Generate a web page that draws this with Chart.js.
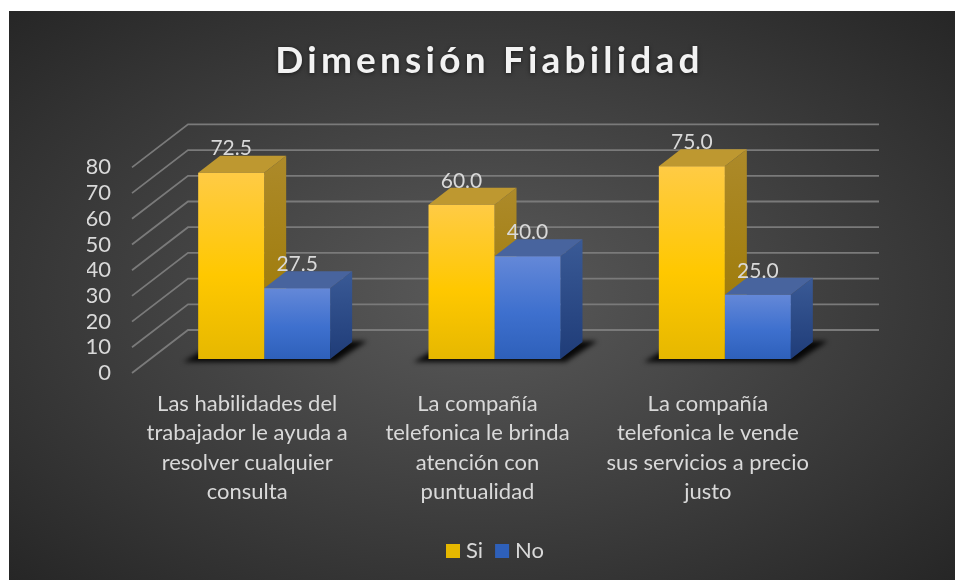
<!DOCTYPE html>
<html><head><meta charset="utf-8">
<style>html,body{margin:0;padding:0;background:#fff}canvas{display:block}</style>
<script src="https://cdn.jsdelivr.net/npm/chart.js@4"></script>
</head><body><canvas id="c" width="955" height="580"></canvas>
<script>
const categories = [
  ["Las habilidades del","trabajador le ayuda a","resolver cualquier","consulta"],
  ["La compañía","telefonica le brinda","atención con","puntualidad"],
  ["La compañía","telefonica le vende","sus servicios a precio","justo"]
];
const siValues = [72.5, 60.0, 75.0];
const noValues = [27.5, 40.0, 25.0];
const seriesNames = ["Si", "No"];
const chartTitle = "Dimensión Fiabilidad";

const FONT = "Lato, Carlito, sans-serif";
const TEXT = "#D9D9D9";
const DEPTH = {dx: 22, dy: 17};
const PAL = [
  {front:["#FFCB45","#FFC800","#E6B800"], side:["#AD8A2A","#9A7700"], top:"#BE9830"},
  {front:["#6488D8","#3E70CE","#2E60BA"], side:["#3A5A96","#1F3C78"], top:"#48649E"}
];

function frontFill(i){
  return function(ctx){
    const c = ctx.chart, pal = PAL[i].front, y = c.scales.y;
    let t = NaN, b = NaN;
    if (ctx.parsed && y) { t = y.getPixelForValue(ctx.parsed.y); b = y.getPixelForValue(0); }
    if (!Number.isFinite(t) || !Number.isFinite(b)) { t = c.height - 37; b = c.height - 23; }
    const g = c.ctx.createLinearGradient(0,t,0,b);
    g.addColorStop(0,pal[0]); g.addColorStop(.55,pal[1]); g.addColorStop(1,pal[2]);
    return g;
  };
}

const scene = {
  id:"scene",
  afterLayout(chart){
    const t = chart.titleBlock;
    if (t && !t._wrapped){
      const d = t.draw.bind(t);
      t.draw = function(){
        const x = chart.ctx; x.save();
        x.letterSpacing = "4.2px"; x.translate(26,-1);
        x.shadowColor = "rgba(0,0,0,.55)"; x.shadowBlur = 4; x.shadowOffsetY = 1;
        d(); x.restore();
      };
      t._wrapped = true;
    }
    const l = chart.legend;
    if (l && !l._wrapped){
      const d = l.draw.bind(l);
      l.draw = function(){
        const x = chart.ctx; x.save();
        x.translate(34,0);
        const ft = x.fillText;
        x.fillText = function(s,a,b,m){ return m===undefined ? ft.call(x,s,a-5,b) : ft.call(x,s,a-5,b,m); };
        d();
        delete x.fillText;
        x.restore();
      };
      l._wrapped = true;
    }
  },
  beforeDraw(chart){
    const x = chart.ctx, L=9, T=11, R=chart.width, B=chart.height;
    const cx=(L+R)/2, cy=(T+B)/2;
    x.save();
    x.fillStyle="#fff"; x.fillRect(0,0,chart.width,chart.height);
    x.beginPath(); x.rect(L,T,R-L,B-T); x.clip();
    x.translate(cx,cy); x.scale((R-L)/(B-T),1);
    const r=Math.hypot((B-T)/2,(B-T)/2)*1.0;
    const g=x.createRadialGradient(0,0,0,0,0,r);
    g.addColorStop(0,"#5A5A5A"); g.addColorStop(1,"#262626");
    x.fillStyle=g; x.fillRect(-2000,-2000,4000,4000);
    x.restore();
  },
  beforeDatasetsDraw(chart){
    const x = chart.ctx, ys = chart.scales.y, area = chart.chartArea;
    x.save();
    x.strokeStyle="#7A7A7A"; x.lineWidth=1.8;
    ys.ticks.forEach(tk=>{
      const p = ys.getPixelForValue(tk.value);
      x.beginPath();
      x.moveTo(area.left-17, p+14);
      x.lineTo(area.left+39, p-29);
      x.lineTo(area.right+39, p-29);
      x.stroke();
    });
    x.restore();
    const metas = [chart.getDatasetMeta(0), chart.getDatasetMeta(1)];
    metas[0].data.forEach((bar,i)=>{
      const b2 = metas[1].data[i];
      const l = bar.x-bar.width/2, r = b2.x+b2.width/2, b = bar.base;
      x.save();
      x.filter="blur(2.5px)"; x.fillStyle="rgba(0,0,0,.9)";
      x.beginPath();
      x.moveTo(l-15,b+3); x.lineTo(r+5,b+3); x.lineTo(r+37,b-18); x.lineTo(r+10,b-18); x.lineTo(l+10,b-12);
      x.closePath(); x.fill(); x.restore();
    });
    metas.forEach((m,k)=>{
      const pal = PAL[k];
      m.data.forEach(bar=>{
        const l=bar.x-bar.width/2, r=bar.x+bar.width/2, t=bar.y, b=bar.base;
        const g=x.createLinearGradient(0,t-DEPTH.dy,0,b);
        g.addColorStop(0,pal.side[0]); g.addColorStop(1,pal.side[1]);
        x.fillStyle=g;
        x.beginPath(); x.moveTo(r,t); x.lineTo(r+DEPTH.dx,t-DEPTH.dy); x.lineTo(r+DEPTH.dx,b-DEPTH.dy); x.lineTo(r,b); x.closePath(); x.fill();
        x.fillStyle=pal.top;
        x.beginPath(); x.moveTo(l,t); x.lineTo(l+DEPTH.dx,t-DEPTH.dy); x.lineTo(r+DEPTH.dx,t-DEPTH.dy); x.lineTo(r,t); x.closePath(); x.fill();
      });
    });
  },
  afterDatasetsDraw(chart){
    const x = chart.ctx;
    x.save();
    x.font = "21px "+FONT; x.fillStyle=TEXT; x.textAlign="center"; x.textBaseline="middle";
    chart.data.datasets.forEach((ds,k)=>{
      chart.getDatasetMeta(k).data.forEach((bar,i)=>{
        x.fillText(ds.data[i].toFixed(1), bar.x, bar.y-DEPTH.dy-7);
      });
    });
    x.restore();
  }
};

new Chart(document.getElementById("c"),{
  type:"bar",
  plugins:[scene],
  data:{labels:categories,datasets:[
    {label:seriesNames[0],data:siValues,backgroundColor:frontFill(0),categoryPercentage:.573,barPercentage:1},
    {label:seriesNames[1],data:noValues,backgroundColor:frontFill(1),categoryPercentage:.573,barPercentage:1}
  ]},
  options:{
    responsive:false,animation:false,
    layout:{padding:{left:87,right:115,top:0,bottom:8}},
    scales:{
      y:{min:0,max:80,ticks:{stepSize:10,autoSkip:false,color:TEXT,font:{family:FONT,size:22},padding:38,labelOffset:14},
         grid:{display:false,drawTicks:false},border:{display:false},
         afterFit(s){s.width=62;}},
      x:{ticks:{color:TEXT,font:{family:FONT,size:22,lineHeight:1.34},maxRotation:0,minRotation:0,autoSkip:false,padding:30,labelOffset:-17},
         grid:{display:false,drawTicks:false},border:{display:false},
         afterFit(s){s.height=174;}}
    },
    plugins:{
      title:{display:true,text:chartTitle,color:"#F2F2F2",font:{family:FONT,size:37,weight:"bold"},padding:{top:40,bottom:69}},
      legend:{position:"bottom",labels:{color:TEXT,font:{family:FONT,size:22},boxWidth:14,boxHeight:14,padding:7}},
      tooltip:{enabled:false}
    }
  }
});
</script></body></html>
